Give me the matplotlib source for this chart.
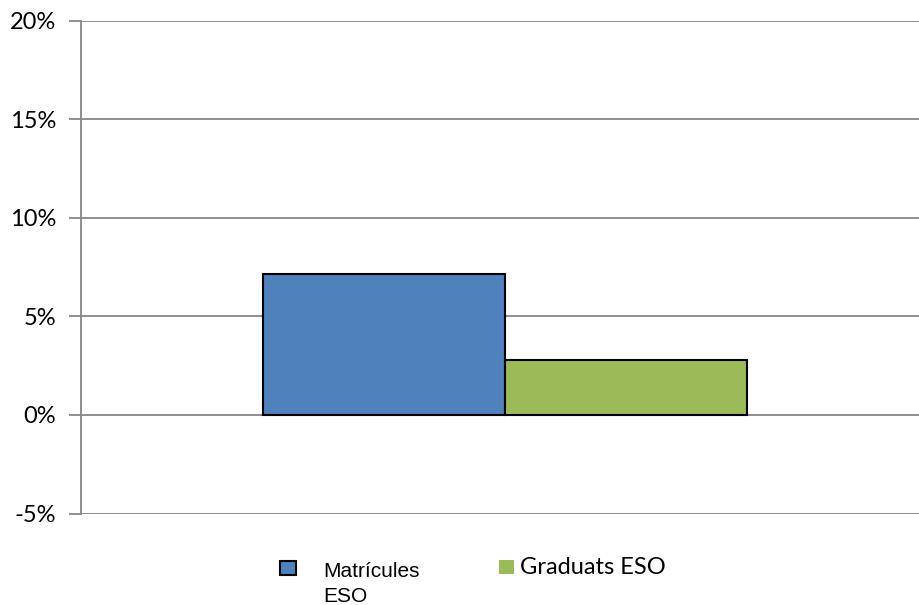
import matplotlib.pyplot as plt
from matplotlib.patches import Rectangle
from matplotlib.ticker import FuncFormatter

series = ['Matrícules', 'ESO', 'Graduats ESO']
values = [7.12, 2.78]
colors = ['#4F81BD', '#9BBB59']
yticks = [-5, 0, 5, 10, 15, 20]

fig = plt.figure(figsize=(9.19, 6.05), dpi=100)
ax = fig.add_axes([81 / 919, 1 - 513.5 / 605, 847 / 919, (513.5 - 20.5) / 605])

width = 2 / 7
offsets = [-width / 2, width / 2]
for off, v, c in zip(offsets, values, colors):
    ax.bar(off, v, width=width, color=c, edgecolor='black', linewidth=1.5, zorder=3)

ax.set_xlim(-0.5, 0.5)
ax.set_ylim(-5, 20)
ax.set_yticks(yticks)
ax.yaxis.set_major_formatter(FuncFormatter(lambda v, p: '%d%%' % v))
ax.set_xticks([])
ax.grid(axis='y', color='#868686', linewidth=1.3, zorder=1)
for s in ['top', 'right', 'bottom']:
    ax.spines[s].set_visible(False)
ax.spines['left'].set_color('#868686')
ax.spines['left'].set_linewidth(1.3)
ax.tick_params(axis='y', length=9, width=1.3, color='#868686', pad=9, labelsize=17)
for t in ax.get_yticklabels():
    t.set_fontfamily('Lato')

# legend
fig.patches.append(Rectangle((280 / 919, 1 - 575 / 605), 16 / 919, 14 / 605,
                             transform=fig.transFigure, facecolor=colors[0],
                             edgecolor='black', linewidth=1.5))
fig.text(323 / 919, 1 - 577 / 605, series[0], family='Liberation Sans', fontsize=15,
         va='baseline', ha='left')
fig.text(323 / 919, 1 - 602 / 605, series[1], family='Liberation Sans', fontsize=15,
         va='baseline', ha='left')
fig.patches.append(Rectangle((499 / 919, 1 - 574 / 605), 15 / 919, 14 / 605,
                             transform=fig.transFigure, facecolor=colors[1],
                             edgecolor='none'))
fig.text(520 / 919, 1 - 574 / 605, series[2], family='Lato', fontsize=17,
         va='baseline', ha='left')

fig.savefig('out.png', dpi=100)
